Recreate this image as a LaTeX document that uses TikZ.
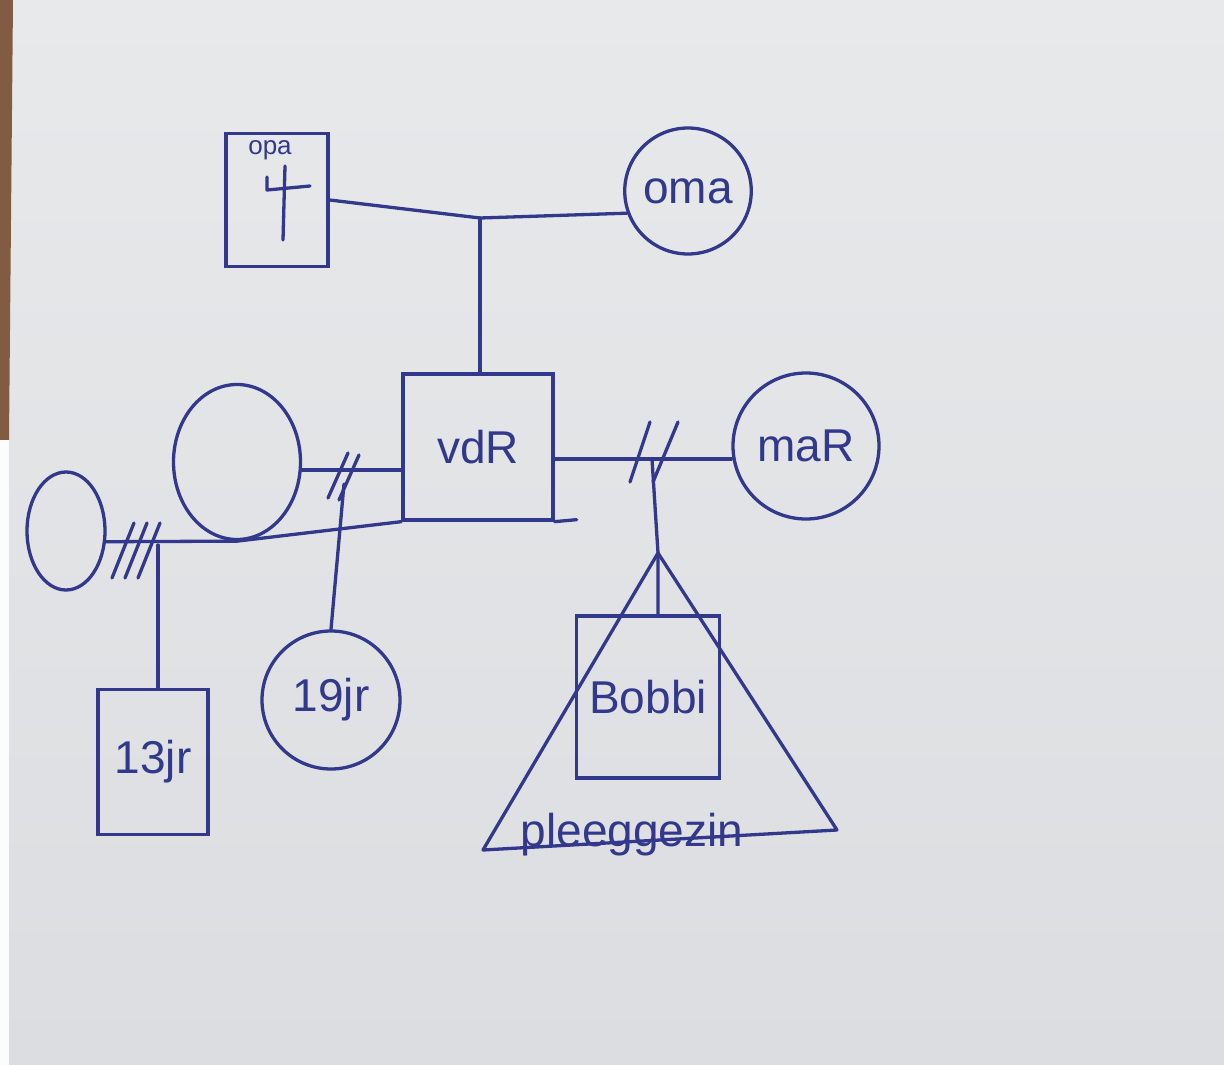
\documentclass[tikz,border=0pt]{standalone}
\usepackage{fontspec}
\setmainfont{Liberation Sans}
\usetikzlibrary{shapes.geometric}
\definecolor{ink}{RGB}{50,56,140}
\definecolor{paper}{RGB}{232,233,235}
\definecolor{paperlow}{RGB}{220,221,224}
\definecolor{edge}{RGB}{130,92,66}
\newcommand\handfont{\fontsize{46}{50}\selectfont}
\begin{document}
\begin{tikzpicture}[x=1pt,y=-1pt,
  link/.style={draw=ink,line width=3.3pt,line cap=round,line join=round},
  person/.style={draw=ink,line width=3.3pt,inner sep=0pt,text=ink,font=\handfont},
  male/.style={person,rectangle},
  female/.style={person,ellipse},
  lbl/.style={text=ink,font=\handfont,inner sep=0pt}]
\shade[top color=paper,bottom color=paperlow] (0,0) rectangle (1224,1065);
\fill[edge] (0,0) -- (13,0) -- (9,440) -- (0,440) -- cycle;
\fill[white!85!paper] (0,440) rectangle (9,1065);
\useasboundingbox (0,0) rectangle (1224,1065);

% persons
\node[male,minimum width=102pt,minimum height=133pt] (opa) at (277,200) {};
\node[lbl,font=\fontsize{26}{28}\selectfont] (opatxt) at (270,150) {opa};
\node[female,minimum size=126pt] (oma) at (688,191) {oma};
\node[male,minimum width=150pt,minimum height=146pt] (vdR) at (478,447) {vdR};
\node[female,minimum size=146pt] (mar) at (806,446) {maR};
\node[female,minimum width=127pt,minimum height=155pt] (ex1) at (237,462) {};
\node[female,minimum width=78pt,minimum height=118pt] (ex2) at (66,531) {};
\node[male,minimum width=110pt,minimum height=145pt] (k13) at (153,762) {13jr};
\node[female,minimum size=138pt] (k19) at (331,700) {19jr};
\node[male,minimum width=143pt,minimum height=162pt] (bobbi) at (648,697) {Bobbi};

% deceased mark
\draw[link] (285,166) -- (283,240);
\draw[link] (267,177) -- (267,190) -- (310,186);

% extended bottom stroke of vdR
\draw[link] (vdR.south east) -- ++(22,-2);

% grandparents
\coordinate (J1) at (480,218);
\draw[link] (opa.east) -- (J1) -- (oma.200);
\draw[link] (J1) -- (J1 |- vdR.north);

% vdR -- mar (divorced)
\coordinate (M1) at (652,459);
\draw[link] (vdR.east |- M1) -- (mar.west |- M1);
\draw[link] (M1) ++(-22,23) -- ++(20,-60);
\draw[link] (M1) ++(1,23) -- ++(25,-60);

% foster family
\coordinate (tA) at (658,553);
\coordinate (tL) at (483,850);
\coordinate (tR) at (837,830);
\draw[link] (M1) -- (tA) -- (tA |- bobbi.north);
\draw[link] (tA) -- (tL) -- (tR) -- cycle;
\node[lbl,anchor=base] (pg) at (632,846) {pleeggezin};

% ex1 -- vdR (divorced)
\coordinate (M2) at (342,470);
\draw[link] (ex1.east |- M2) -- (vdR.west |- M2);
\draw[link] (M2) ++(-14,28) -- ++(20,-45);
\draw[link] (M2) ++(-3,30) -- ++(20,-45);
\coordinate (M2b) at (344,484);
\draw[link] (M2b) -- (k19.north);

% ex2 -- ex1 -- vdR line (divorced)
\draw[link] (ex2.-15) -- (ex1.south) -- (vdR.south west);
\foreach \dx in {0,13,26} \draw[link] ({112+\dx},578) -- ++(22,-55);
\coordinate (M3) at (158,545);
\draw[link] (M3) -- (M3 |- k13.north);
\end{tikzpicture}
\end{document}
